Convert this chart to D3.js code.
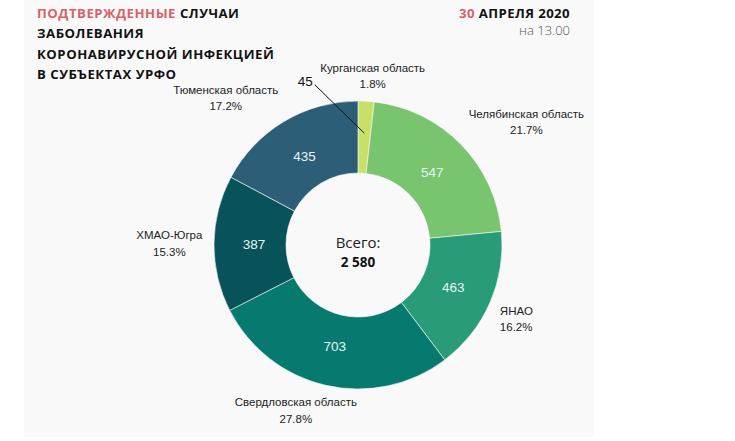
<!DOCTYPE html>
<html><head><meta charset="utf-8">
<script src="https://cdn.jsdelivr.net/npm/d3@7"></script>
<style>
html,body{margin:0;padding:0;background:#fff;}
svg{display:block;}
</style></head>
<body>
<svg id="c" width="735" height="441"></svg>
<script>
const regions = ["Курганская область","Челябинская область","ЯНАО","Свердловская область","ХМАО-Югра","Тюменская область"];
const cases = [45, 547, 463, 703, 387, 435];
const shares = [1.8, 21.7, 16.2, 27.8, 15.3, 17.2];
const colors = ["#c8e065","#78c46f","#2a9b78","#067a6f","#08535a","#2d5e78"];
const totalLabel = "2 580";
const titleLines = [["ПОДТВЕРЖДЕННЫЕ","СЛУЧАИ"],["","ЗАБОЛЕВАНИЯ"],["","КОРОНАВИРУСНОЙ ИНФЕКЦИЕЙ"],["","В СУБЪЕКТАХ УРФО"]];

const svg = d3.select("#c");
svg.append("rect").attr("x",24).attr("y",0).attr("width",570).attr("height",437).attr("fill","#f9f9f9");

// title
const title = svg.append("text").attr("x",37).attr("font-family","'Open Sans'").attr("font-weight",700)
  .attr("font-size",13.2).attr("letter-spacing",0.5);
titleLines.forEach((ln,i)=>{
  const t = title.append("tspan").attr("x",37).attr("y",18+i*20.3);
  if(ln[0]){ t.attr("fill","#d9626a").text(ln[0]+" "); title.append("tspan").attr("fill","#111").text(ln[1]); }
  else t.attr("fill","#111").text(ln[1]);
});
const dt = svg.append("text").attr("x",570).attr("y",18).attr("text-anchor","end")
  .attr("font-family","'Open Sans'").attr("font-weight",700).attr("font-size",13.2).attr("letter-spacing",0.4);
dt.append("tspan").attr("fill","#d9626a").text("30 ");
dt.append("tspan").attr("fill","#111").text("АПРЕЛЯ 2020");
svg.append("text").attr("x",570).attr("y",35).attr("text-anchor","end")
  .attr("font-family","'Open Sans'").attr("font-weight",300).attr("font-size",13).attr("fill","#555").text("на 13.00");

const cx = 358, cy = 245, R = 144, r0 = 72;
const g = svg.append("g").attr("transform",`translate(${cx},${cy})`);
const data = regions.map((n,i)=>({name:n, value:cases[i], share:shares[i], color:colors[i]}));
const pie = d3.pie().sort(null).value(d=>d.share);
const arcs = pie(data);
const arc = d3.arc().innerRadius(r0).outerRadius(R);
g.selectAll("path").data(arcs).join("path").attr("d",arc).attr("fill",d=>d.data.color)
  .attr("stroke","#f9f9f9").attr("stroke-width",0.6);

// inner value labels
const inArc = d3.arc().innerRadius(104).outerRadius(104);
g.selectAll("text.v").data(arcs.filter(d=>d.index>0)).join("text").attr("class","v")
  .attr("transform",d=>`translate(${inArc.centroid(d)})`).attr("text-anchor","middle").attr("dy","0.35em")
  .attr("font-family","'Liberation Sans',Arial").attr("font-size",13.5).attr("fill","#e6f6f4").text(d=>d.data.value);

// outer labels: block placed so its nearest side touches a ring outside the donut
const ring = 155;
const clamp = v => Math.max(-1, Math.min(1, v));
const lab = g.selectAll("g.o").data(arcs).join("g").attr("class","o");
lab.each(function(d){
  const a = (d.startAngle + d.endAngle)/2;
  const s = Math.sin(a), c = Math.cos(a);
  const px = ring*s, py = -ring*c;
  const t = d3.select(this).append("text").attr("font-family","'Liberation Sans',Arial").attr("font-size",11.5).attr("fill","#222")
    .attr("text-anchor", d.index===2 ? "start" : "middle");
  t.append("tspan").attr("x",0).attr("y",0).text(d.data.name);
  t.append("tspan").attr("x",0).attr("y",16.5).text(d.data.share.toFixed(1)+"%");
  const b = t.node().getBBox();
  const th = clamp(s*2), tv = clamp(c*2);
  const left = px - b.width*(1 - th)/2;
  const top = py - b.height*(1 + tv)/2;
  d3.select(this).attr("transform",`translate(${left - b.x},${top - b.y})`);
});

// small slice callout
const k = arcs[0];
const pin = d3.arc().innerRadius(112).outerRadius(112).centroid(k);
const anchor = d3.arc().innerRadius(166).outerRadius(166).centroid({startAngle:k.startAngle-0.32, endAngle:k.endAngle-0.32});
g.append("line").attr("x1",anchor[0]).attr("y1",anchor[1]).attr("x2",pin[0]).attr("y2",pin[1]).attr("stroke","#111").attr("stroke-width",1);
g.append("text").attr("x",anchor[0]-2).attr("y",anchor[1]+1).attr("text-anchor","end").attr("font-family","'Liberation Sans',Arial")
  .attr("font-size",13.5).attr("fill","#111").text(k.data.value);

// center
g.append("text").attr("y",3).attr("text-anchor","middle").attr("font-family","'Open Sans'").attr("font-size",15).attr("fill","#222").text("Всего:");
g.append("text").attr("y",22).attr("text-anchor","middle").attr("font-family","'Open Sans'").attr("font-weight",700).attr("font-size",13.5).attr("fill","#111").text(totalLabel);
</script>
</body></html>
